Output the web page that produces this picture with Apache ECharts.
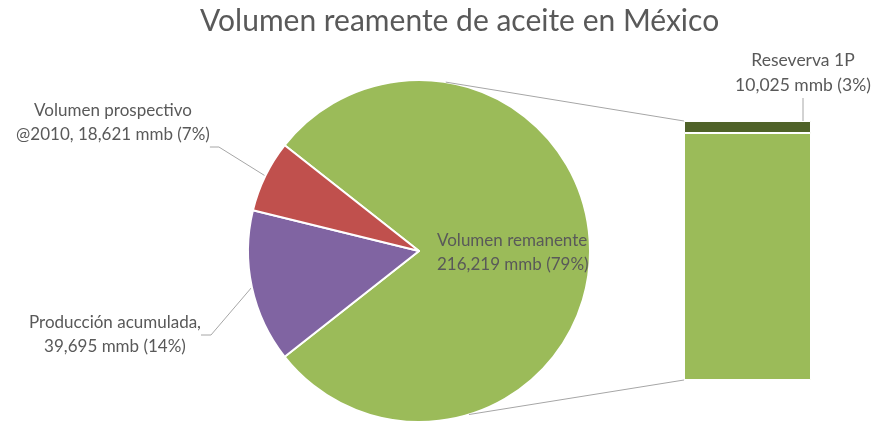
<!DOCTYPE html>
<html>
<head>
<meta charset="utf-8">
<script src="https://cdn.jsdelivr.net/npm/echarts@6/dist/echarts.min.js"></script>
<style>
  html, body { margin: 0; padding: 0; background: #fff; }
  #chart { width: 878px; height: 423px; }
</style>
</head>
<body>
<div id="chart"></div>
<script>
// pie slices (mmb)
const pieNames = ['Volumen remanente', 'Producción acumulada', 'Volumen prospectivo']
const pieValues = [216219, 39695, 18621]
const pieLabels = [
  'Volumen remanente\n216,219 mmb (79%)',
  'Producción acumulada,\n39,695 mmb (14%)',
  'Volumen prospectivo\n@2010, 18,621 mmb (7%)'
]
// breakdown of the remaining volume shown in the bar
const barNames = ['Resto', 'Reseverva 1P']
const barValues = [206194, 10025]
const barLabel = 'Reseverva 1P\n10,025 mmb (3%)'

const green = '#9BBB59'
const textColor = '#595959'
const lineColor = '#A6A6A6'
const font = 'Lato'

const total = pieValues.reduce((a, b) => a + b, 0)
const pieCenter = [419, 251]
const pieR = 171

const chart = echarts.init(document.getElementById('chart'))

const option = {
  animation: false,
  title: {
    text: 'Volumen reamente de aceite en México',
    left: 195,
    top: 1,
    textStyle: { fontFamily: font, fontSize: 30, fontWeight: 'normal', color: textColor }
  },
  grid: { left: 684, top: 121, width: 127, height: 259 },
  xAxis: { type: 'category', data: ['bar'], show: false },
  yAxis: { type: 'value', min: 0, max: pieValues[0], show: false },
  series: [
    {
      type: 'pie',
      center: pieCenter,
      radius: pieR,
      startAngle: 180 * pieValues[0] / total,
      clockwise: true,
      itemStyle: { borderColor: '#fff', borderWidth: 2 },
      label: {
        fontFamily: font, fontSize: 17, color: textColor, lineHeight: 24,
        formatter: (p) => pieLabels[p.dataIndex]
      },
      labelLine: { show: true, length2: 10, lineStyle: { color: lineColor, width: 1 } },
      labelLayout: (p) => {
        if (p.dataIndex === 0) return { x: 437, y: 253, align: 'left', verticalAlign: 'middle' }
        if (p.dataIndex === 1) return { x: 115, y: 335, align: 'center', verticalAlign: 'middle' }
        // prospectivo: guide line leaves from the lower right corner of the text
        const a = p.labelLinePoints[0]
        const lx = 113 + p.labelRect.width / 2
        const ly = 123 + p.labelRect.height / 2
        return {
          x: 113, y: 123, align: 'center', verticalAlign: 'middle',
          labelLinePoints: [a, [lx + 9, ly], [lx, ly]]
        }
      },
      data: pieNames.map((n, i) => ({
        name: n,
        value: pieValues[i],
        itemStyle: { color: [green, '#8064A2', '#C0504D'][i] },
        label: i === 0 ? { position: 'inside' } : { position: 'outside' },
        labelLine: { show: i !== 0 }
      }))
    },
    {
      type: 'bar',
      name: barNames[0],
      stack: 'r',
      barWidth: '100%',
      itemStyle: { color: green, borderColor: '#fff', borderWidth: 1 },
      data: [barValues[0]]
    },
    {
      type: 'bar',
      name: barNames[1],
      stack: 'r',
      barWidth: '100%',
      itemStyle: { color: '#4F6228', borderColor: '#fff', borderWidth: 1 },
      label: {
        show: true, position: 'top',
        fontFamily: font, fontSize: 17.5, color: textColor, lineHeight: 25,
        formatter: () => barLabel
      },
      labelLine: { show: true, lineStyle: { color: lineColor, width: 1 } },
      labelLayout: (p) => {
        const r = p.rect
        return {
          x: 803, y: 73, align: 'center', verticalAlign: 'middle',
          labelLinePoints: [[r.x + r.width, r.y], [r.x + r.width - 6, r.y - 17]]
        }
      },
      data: [barValues[1]]
    }
  ]
}
chart.setOption(option)

// connector lines from the pie to the bar
const rad = (d) => d * Math.PI / 180
const pTop = [pieCenter[0] + pieR * Math.cos(rad(81)), pieCenter[1] - pieR * Math.sin(rad(81))]
const pBot = [pieCenter[0] + pieR * Math.cos(rad(-73)), pieCenter[1] - pieR * Math.sin(rad(-73))]
const barTopLeft = chart.convertToPixel({ gridIndex: 0 }, [0, pieValues[0]])
const barBotLeft = chart.convertToPixel({ gridIndex: 0 }, [0, 0])
const leftX = 684
chart.setOption({
  graphic: [
    { type: 'line', shape: { x1: pTop[0], y1: pTop[1], x2: leftX, y2: barTopLeft[1] }, style: { stroke: lineColor, lineWidth: 1 }, z: 10 },
    { type: 'line', shape: { x1: pBot[0], y1: pBot[1], x2: leftX, y2: barBotLeft[1] }, style: { stroke: lineColor, lineWidth: 1 }, z: 10 }
  ]
})
</script>
</body>
</html>
